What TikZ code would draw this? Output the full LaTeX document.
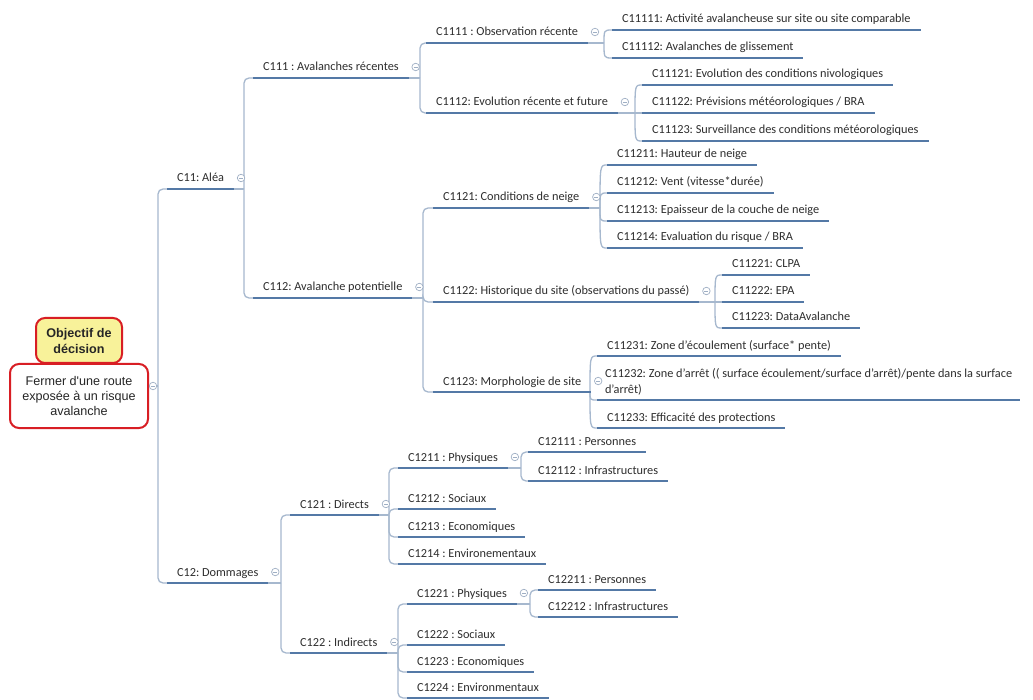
\documentclass[tikz,border=0pt]{standalone}
\usepackage{fontspec}
\setmainfont{Carlito}
\newfontfamily\arialf{Liberation Sans}
\usetikzlibrary{calc}
\definecolor{ulc}{HTML}{5479A6}
\definecolor{cnc}{HTML}{A6B8CE}
\definecolor{txc}{HTML}{2E2E2E}
\definecolor{rootred}{HTML}{D81E24}
\definecolor{rooty}{HTML}{F8F29A}
\definecolor{mkc}{HTML}{9FAFC4}
\frenchspacing
\begin{document}
\begin{tikzpicture}[x=1pt,y=-1pt,
  item/.style={anchor=south west, inner xsep=10pt, inner ysep=4pt, text depth=3pt, text height=9pt,
    outer sep=0pt, font=\fontsize{12.3pt}{16pt}\selectfont, text=txc},
  ulpath/.style={draw=ulc, line width=2.4pt},
  conn/.style={draw=cnc, line width=1.3pt},
  elb/.style={conn, rounded corners=5pt},
  mk/.style={circle, draw=mkc, fill=white, line width=0.7pt, minimum size=7.5pt, inner sep=0pt,
    path picture={\draw[mkc, line width=0.7pt] ([xshift=-2pt]path picture bounding box.center) -- ([xshift=2pt]path picture bounding box.center);}},
  rootbox/.style={draw=rootred, line width=2pt, rounded corners=9pt, align=center, inner sep=2pt,
    font=\arialf\fontsize{12.6pt}{15pt}\selectfont, text=black!85}
]
\useasboundingbox[fill=white] (0,0) rectangle (1033,700);

% ---------- root ----------
\node[rootbox, fill=white, minimum width=138pt, minimum height=64pt] (root) at (79,396)
  {Fermer d'une route\\exposée à un risque\\avalanche};
\node[rootbox, fill=rooty, minimum width=86pt, minimum height=45pt,
  font=\arialf\bfseries\fontsize{12.6pt}{16pt}\selectfont] (obj) at (79,340.5) {Objectif de\\décision};

% ---------- items ----------
\node[item] (c11) at (167,189) {C11: Aléa};
\node[item] (c111) at (253,78) {C111 : Avalanches récentes};
\node[item] (c1111) at (426,43) {C1111 : Observation récente};
\node[item] (c11111) at (612,30) {C11111: Activité avalancheuse sur site ou site comparable};
\node[item] (c11112) at (612,58) {C11112: Avalanches de glissement};
\node[item] (c1112) at (426,113) {C1112: Evolution récente et future};
\node[item] (c11121) at (642,85) {C11121: Evolution des conditions nivologiques};
\node[item] (c11122) at (642,113) {C11122: Prévisions météorologiques / BRA};
\node[item] (c11123) at (642,141) {C11123: Surveillance des conditions météorologiques};
\node[item] (c112) at (253,298) {C112: Avalanche potentielle};
\node[item] (c1121) at (433,208) {C1121: Conditions de neige};
\node[item] (c11211) at (607,165) {C11211: Hauteur de neige};
\node[item] (c11212) at (607,193) {C11212: Vent (vitesse*durée)};
\node[item] (c11213) at (607,221) {C11213: Epaisseur de la couche de neige};
\node[item] (c11214) at (607,248) {C11214: Evaluation du risque / BRA};
\node[item] (c1122) at (433,302) {C1122: Historique du site (observations du passé)};
\node[item] (c11221) at (722,275) {C11221: CLPA};
\node[item] (c11222) at (722,302) {C11222: EPA};
\node[item] (c11223) at (722,328) {C11223: DataAvalanche};
\node[item] (c1123) at (433,392) {C1123: Morphologie de site};
\node[item] (c11231) at (597,356) {C11231: Zone d'écoulement (surface* pente)};
\node[item, align=left, inner xsep=8pt] (c11232) at (597,400) {C11232: Zone d'arrêt (( surface écoulement/surface d'arrêt)/pente dans la surface\\d'arrêt)};
\node[item] (c11233) at (597,428) {C11233: Efficacité des protections};

\node[item] (c12) at (167,583) {C12: Dommages};
\node[item] (c121) at (290,515) {C121 : Directs};
\node[item] (c1211) at (398,468) {C1211 : Physiques};
\node[item] (c12111) at (528,452) {C12111 : Personnes};
\node[item] (c12112) at (528,481) {C12112 : Infrastructures};
\node[item] (c1212) at (398,509) {C1212 : Sociaux};
\node[item] (c1213) at (398,537) {C1213 : Economiques};
\node[item] (c1214) at (398,564) {C1214 : Environementaux};
\node[item] (c122) at (290,653) {C122 : Indirects};
\node[item] (c1221) at (407,604) {C1221 : Physiques};
\node[item] (c12211) at (538,590) {C12211 : Personnes};
\node[item] (c12212) at (538,617) {C12212 : Infrastructures};
\node[item] (c1222) at (407,645) {C1222 : Sociaux};
\node[item] (c1223) at (407,672) {C1223 : Economiques};
\node[item] (c1224) at (407,698) {C1224 : Environmentaux};

% ---------- junction coordinates ----------
\coordinate (rj) at (158,386);
\coordinate (j11) at (244,189);
\coordinate (j111) at (420,78);
\coordinate (j112) at (423,298);
\coordinate (j12) at (281,583);
\coordinate (j121) at (389,515);
\coordinate (j1211) at (521,468);
\coordinate (j122) at (398,653);
\coordinate (j1221) at (530,604);
\coordinate (b1111) at (604,43);
\coordinate (b1112) at (635,113);
\coordinate (b1121) at (600,208);
\coordinate (b1122) at (715,302);
\coordinate (b1123) at (590,392);

% ---------- elbow connectors ----------
\draw[conn] ([yshift=10pt]root.east) -- (rj);
\draw[elb] (rj) |- (c11.south west);
\draw[elb] (rj) |- (c12.south west);

\draw[conn] (c11.south east) -- (j11);
\foreach \c in {c111,c112} \draw[elb] (j11) |- (\c.south west);
\draw[conn] (c111.south east) -- (j111);
\foreach \c in {c1111,c1112} \draw[elb] (j111) |- (\c.south west);
\draw[conn] (c112.south east) -- (j112);
\foreach \c in {c1121,c1122,c1123} \draw[elb] (j112) |- (\c.south west);

\draw[conn] (c12.south east) -- (j12);
\foreach \c in {c121,c122} \draw[elb] (j12) |- (\c.south west);
\draw[conn] (c121.south east) -- (j121);
\foreach \c in {c1211,c1212,c1213,c1214} \draw[elb] (j121) |- (\c.south west);
\draw[conn] (c1211.south east) -- (j1211);
\foreach \c in {c12111,c12112} \draw[elb] (j1211) |- (\c.south west);
\draw[conn] (c122.south east) -- (j122);
\foreach \c in {c1221,c1222,c1223,c1224} \draw[elb] (j122) |- (\c.south west);
\draw[conn] (c1221.south east) -- (j1221);
\foreach \c in {c12211,c12212} \draw[elb] (j1221) |- (\c.south west);

% ---------- brace connectors ----------
\draw[conn] (c1111.south east) -- (b1111);
\foreach \c in {c11111,c11112} \draw[conn] (b1111) .. controls (b1111 |- \c.south west) .. (\c.south west);
\draw[conn] (c1112.south east) -- (b1112);
\foreach \c in {c11121,c11122,c11123} \draw[conn] (b1112) .. controls (b1112 |- \c.south west) .. (\c.south west);
\draw[conn] (c1121.south east) -- (b1121);
\foreach \c in {c11211,c11212,c11213,c11214} \draw[conn] (b1121) .. controls (b1121 |- \c.south west) .. (\c.south west);
\draw[conn] (c1122.south east) -- (b1122);
\foreach \c in {c11221,c11222,c11223} \draw[conn] (b1122) .. controls (b1122 |- \c.south west) .. (\c.south west);
\draw[conn] (c1123.south east) -- (b1123);
\foreach \c in {c11231,c11232,c11233} \draw[conn] (b1123) .. controls (b1123 |- \c.south west) .. (\c.south west);

% ---------- underlines ----------
\foreach \n in {c11,c111,c1111,c11111,c11112,c1112,c11121,c11122,c11123,c112,c1121,c11211,c11212,c11213,c11214,c1122,c11221,c11222,c11223,c1123,c11231,c11232,c11233,c12,c121,c1211,c12111,c12112,c1212,c1213,c1214,c122,c1221,c12211,c12212,c1222,c1223,c1224}
  \draw[ulpath] (\n.south west) -- (\n.south east);

% ---------- collapse marks ----------
\node[mk] (mroot) at (153,386) {};
\foreach \n in {c11,c111,c1111,c1112,c112,c1121,c1122,c1123,c12,c121,c1211,c122,c1221}
  \node[mk] (m\n) at ([xshift=7pt,yshift=11pt]\n.south east) {};
\end{tikzpicture}
\end{document}
